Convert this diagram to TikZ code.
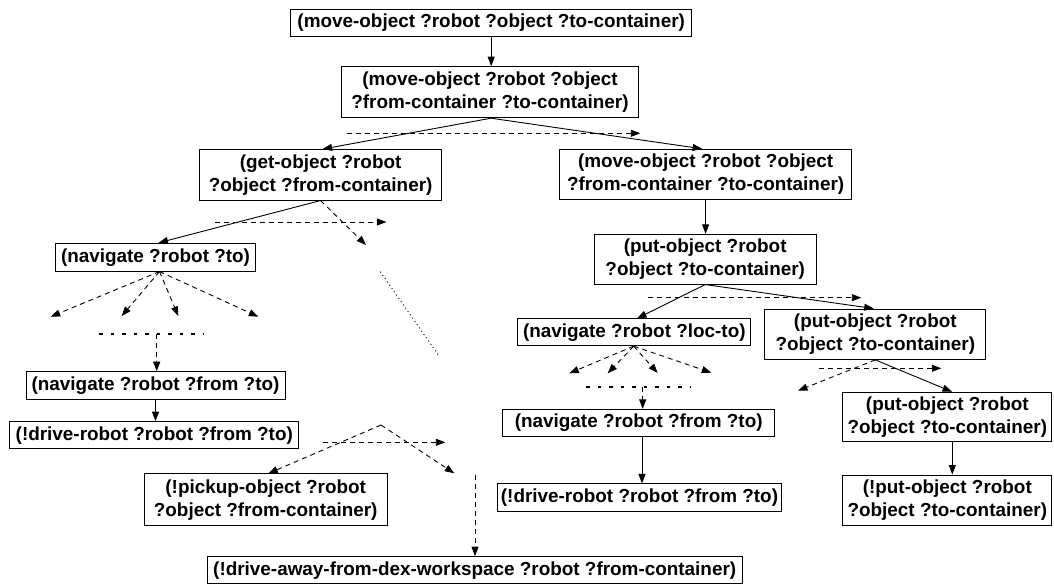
\documentclass[tikz,border=0pt]{standalone}
\usepackage{fontspec}
\setmainfont{Liberation Sans}
\usetikzlibrary{arrows.meta}
\begin{document}
\begin{tikzpicture}[x=1pt,y=-1pt]
\tikzset{
 box/.style={draw, line width=1pt, align=center, inner sep=0pt, font=\fontsize{18.9}{22.7}\selectfont\bfseries},
 arr/.style={line width=0.9pt, -{Triangle[length=9.5pt,width=7pt]}},
 darr/.style={arr, dash pattern=on 5pt off 4pt},
 sdash/.style={line width=1.7pt, dash pattern=on 3.5pt off 8pt},
 fdot/.style={line width=0.9pt, dash pattern=on 1pt off 3pt},
}
\useasboundingbox (0,0) rectangle (1054,585);
% nodes
\node[box, minimum width=401pt, minimum height=27pt] (n1) at (491.2,22.8) {(move-object ?robot ?object ?to-container)};
\node[box, minimum width=296.6pt, minimum height=51pt] (n2) at (490,92.2) {(move-object ?robot ?object\\?from-container ?to-container)};
\node[box, minimum width=242.6pt, minimum height=50.5pt] (n3) at (320.6,174.8) {(get-object ?robot\\?object ?from-container)};
\node[box, minimum width=292.7pt, minimum height=50pt] (n4) at (705.6,174.3) {(move-object ?robot ?object\\?from-container ?to-container)};
\node[box, minimum width=221.7pt, minimum height=49.7pt] (n5) at (705.2,259.2) {(put-object ?robot\\?object ?to-container)};
\node[box, minimum width=199.6pt, minimum height=27.7pt] (n6) at (155.5,257.2) {(navigate ?robot ?to)};
\node[box, minimum width=233.3pt, minimum height=26.7pt] (n7) at (634.3,332.3) {(navigate ?robot ?loc-to)};
\node[box, minimum width=221.3pt, minimum height=50.3pt] (n8) at (875.3,334.2) {(put-object ?robot\\?object ?to-container)};
\node[box, minimum width=259pt, minimum height=28.3pt] (n9) at (155.5,385.8) {(navigate ?robot ?from ?to)};
\node[box, minimum width=289.3pt, minimum height=27.3pt] (n10) at (154.3,435.3) {(!drive-robot ?robot ?from ?to)};
\node[box, minimum width=242.7pt, minimum height=51.7pt] (n11) at (265.7,499.8) {(!pickup-object ?robot\\?object ?from-container)};
\node[box, minimum width=534.7pt, minimum height=27.3pt] (n12) at (474.7,570.3) {(!drive-away-from-dex-workspace ?robot ?from-container)};
\node[box, minimum width=272pt, minimum height=26.7pt] (n13) at (638.7,422.7) {(navigate ?robot ?from ?to)};
\node[box, minimum width=283.6pt, minimum height=27.7pt] (n14) at (639.5,497.8) {(!drive-robot ?robot ?from ?to)};
\node[box, minimum width=209.3pt, minimum height=49.4pt] (n15) at (947.3,417) {(put-object ?robot\\?object ?to-container)};
\node[box, minimum width=209.3pt, minimum height=50pt] (n16) at (947.3,500) {(!put-object ?robot\\?object ?to-container)};
% free coordinates
\coordinate (h1a) at (346.7,133.3); \coordinate (h1b) at (640.3,133.3);
\coordinate (h2a) at (215,222); \coordinate (h2b) at (386.4,222);
\coordinate (g1) at (366,245);
\coordinate (f1) at (50.7,316.7); \coordinate (f2) at (121.7,316); \coordinate (f3) at (178.3,316); \coordinate (f4) at (258.3,316.7);
\coordinate (s1a) at (99.3,334.3); \coordinate (s1b) at (204,334.3); \coordinate (s1m) at (156.7,334.3);
\coordinate (d1a) at (380.3,271.7); \coordinate (d1b) at (438.3,355);
\coordinate (ap) at (381,425); \coordinate (ap2) at (454.3,473.3);
\coordinate (h3a) at (323.3,442.3); \coordinate (h3b) at (445.3,442.3);
\coordinate (v1) at (475,475);
\coordinate (h4a) at (647.7,297.7); \coordinate (h4b) at (861.3,297.7);
\coordinate (k1) at (569.3,373.3); \coordinate (k2) at (607.7,373.3); \coordinate (k3) at (657.7,373); \coordinate (k4) at (711.3,372.7);
\coordinate (s2a) at (586,387.3); \coordinate (s2b) at (691,387.3); \coordinate (s2m) at (642.7,387.3);
\coordinate (h5a) at (819.3,368.3); \coordinate (h5b) at (941.3,368.3);
\coordinate (q1) at (798,390.7);
% solid arrows
\draw[arr] (n1.south) -- (n1.south |- n2.north);
\draw[arr] ([xshift=1pt]n2.south) -- ([xshift=2pt]n3.north);
\draw[arr] ([xshift=1pt]n2.south) -- ([xshift=-3.5pt]n4.north);
\draw[arr] (n3.south) -- ([xshift=3pt]n6.north);
\draw[arr] (n4.south) -- (n4.south |- n5.north);
\draw[arr] (n5.south) -- ([xshift=2.7pt]n7.north);
\draw[arr] (n5.south) -- ([xshift=-1.6pt]n8.north);
\draw[arr] (n9.south) -- (n9.south |- n10.north);
\draw[arr] ([xshift=3.3pt]n13.south) -- ([xshift=3.3pt]n13.south |- n14.north);
\draw[arr] (n8.south) -- ([xshift=4.7pt]n15.north);
\draw[arr] ([xshift=5pt]n15.south) -- ([xshift=5pt]n16.north);
% dashed
\draw[darr] (h1a) -- (h1b);
\draw[darr] (h2a) -- (h2b);
\draw[darr] (n3.south) -- (g1);
\foreach \t in {f1,f2,f3,f4} \draw[darr] ([xshift=4pt]n6.south) -- (\t);
\draw[sdash] (s1a) -- (s1b);
\draw[darr] (s1m) -- (s1m |- n9.north);
\draw[fdot] (d1a) -- (d1b);
\draw[darr] (ap) -- ([xshift=2.6pt]n11.north);
\draw[darr] (ap) -- (ap2);
\draw[darr] (h3a) -- (h3b);
\draw[darr] (v1) -- (v1 |- n12.north);
\draw[darr] (h4a) -- (h4b);
\foreach \t in {k1,k2,k3,k4} \draw[darr] ([xshift=-0.6pt]n7.south) -- (\t);
\draw[sdash] (s2a) -- (s2b);
\draw[darr] (s2m) -- (s2m |- n13.north);
\draw[darr] (h5a) -- (h5b);
\draw[darr] (n8.south) -- (q1);
\end{tikzpicture}
\end{document}
